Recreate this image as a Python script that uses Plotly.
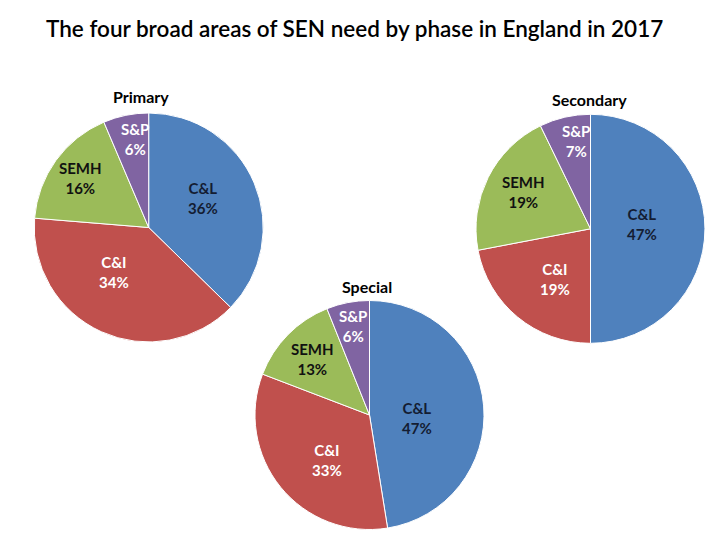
import math
import plotly.graph_objects as go

W, H = 720, 540

categories = ["C&L", "C&I", "SEMH", "S&P"]
colors = ["#4F81BD", "#C0504D", "#9BBB59", "#8064A2"]
label_colors = ["#141d33", "#ffffff", "#111111", "#ffffff"]

# slice shares
primary_values = [37.3, 39.0, 17.3, 6.4]
secondary_values = [50.0, 22.0, 20.8, 7.2]
special_values = [47, 33, 13, 6]

# printed percentage labels
primary_labels = ["36%", "34%", "16%", "6%"]
secondary_labels = ["47%", "19%", "19%", "7%"]
special_labels = ["47%", "33%", "13%", "6%"]

title = "The four broad areas of SEN need by phase in England in 2017"
pie_titles = ["Primary", "Secondary", "Special"]

# layout (pixels): pie domain boxes [x0, x1, ytop, ybottom]
boxes = [
    [34.2, 263.2, 113.0, 342.0],
    [476.0, 705.0, 114.3, 343.3],
    [255.0, 484.0, 300.5, 529.5],
]
# label placement (clockwise angle from 12 o'clock, fraction of radius)
label_angle = [
    [62, 218, 306, 351],
    [84.6, 215.3, 298.6, 350.6],
    [93.6, 223.4, 314.2, 349.5],
]
label_rfrac = [
    [0.54, 0.49, 0.74, 0.78],
    [0.45, 0.54, 0.67, 0.78],
    [0.42, 0.54, 0.70, 0.79],
]
title_pos = [(141, 97), (589, 99), (367, 286)]

FONT = "Lato"

fig = go.Figure()
annotations = []
all_vals = [primary_values, secondary_values, special_values]
all_labs = [primary_labels, secondary_labels, special_labels]
for i in range(3):
    x0, x1, yt, yb = boxes[i]
    fig.add_trace(go.Pie(
        labels=categories,
        values=all_vals[i],
        sort=False,
        direction="clockwise",
        rotation=0,
        marker=dict(colors=colors, line=dict(color="white", width=1)),
        textinfo="none",
        hoverinfo="label+value",
        showlegend=False,
        domain=dict(x=[x0 / W, x1 / W], y=[1 - yb / H, 1 - yt / H]),
    ))
    cx, cy = (x0 + x1) / 2, (yt + yb) / 2
    R = min(x1 - x0, yb - yt) / 2
    for j, cat in enumerate(categories):
        a = math.radians(label_angle[i][j])
        r = label_rfrac[i][j] * R
        px = cx + r * math.sin(a)
        py = cy - r * math.cos(a)
        annotations.append(dict(
            x=px / W, y=1 - py / H, xref="paper", yref="paper",
            text=f"{cat}<br>{all_labs[i][j]}", showarrow=False,
            xanchor="center", yanchor="middle", align="center",
            font=dict(family=FONT, size=15, color=label_colors[j], weight="bold"),
        ))
    tx, ty = title_pos[i]
    annotations.append(dict(
        x=tx / W, y=1 - ty / H, xref="paper", yref="paper",
        text=pie_titles[i], showarrow=False, xanchor="center", yanchor="middle",
        font=dict(family=FONT, size=16, color="#000000", weight="bold"),
    ))

annotations.append(dict(
    x=354 / W, y=1 - 29 / H, xref="paper", yref="paper", text=title,
    showarrow=False, xanchor="center", yanchor="middle",
    font=dict(family=FONT, size=22.5, color="#000000", weight=600),
))

fig.update_layout(
    width=W, height=H,
    margin=dict(l=0, r=0, t=0, b=0),
    paper_bgcolor="white", plot_bgcolor="white",
    annotations=annotations,
)

fig.write_html("out.html")
